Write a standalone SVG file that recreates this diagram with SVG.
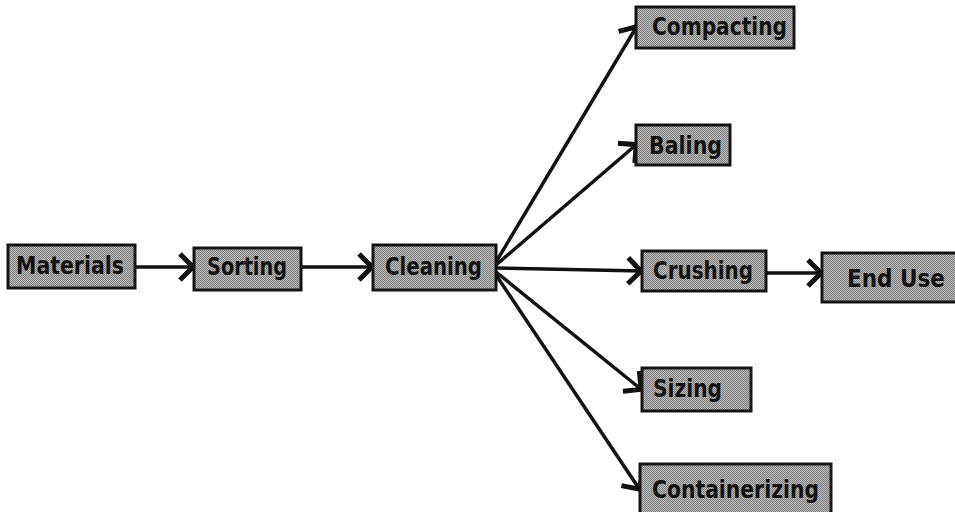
<svg xmlns="http://www.w3.org/2000/svg" width="955" height="512" viewBox="0 0 955 512">
<defs>
<pattern id="dither" width="2" height="2" patternUnits="userSpaceOnUse">
<rect width="2" height="2" fill="#bdbdbd"/>
<rect width="1" height="1" fill="#7e7e7e"/>
<rect x="1" y="1" width="1" height="1" fill="#7e7e7e"/>
</pattern>
<marker id="arr" viewBox="-20 -18 22 36" markerWidth="22" markerHeight="36" refX="-1" refY="0" orient="auto" markerUnits="userSpaceOnUse">
<path d="M-15,-13 L-2,0 L-15,13" fill="none" stroke="#111" stroke-width="5"/>
</marker>
<style>
.box{fill:url(#dither);stroke:#141414;stroke-width:3}
.lbl{font-family:"Liberation Sans Narrow","DejaVu Sans Condensed","Liberation Sans",sans-serif;font-weight:bold;font-size:25px;fill:#111}
.con{fill:none;stroke:#111;stroke-width:3.5;marker-end:url(#arr)}
</style>
</defs>
<rect width="955" height="512" fill="#fff"/>
<g id="connectors">
<line class="con" x1="135" y1="267" x2="194" y2="267"/>
<line class="con" x1="301" y1="267" x2="373" y2="267"/>
<line class="con" x1="496" y1="262" x2="637" y2="26"/>
<line class="con" x1="496" y1="265" x2="637" y2="144"/>
<line class="con" x1="496" y1="268" x2="642" y2="271"/>
<line class="con" x1="766" y1="273" x2="822" y2="273"/>
<line class="con" x1="496" y1="272" x2="642" y2="390"/>
<line class="con" x1="496" y1="275" x2="640" y2="490"/>
</g>
<g id="materials"><rect class="box" x="8" y="245" width="127" height="43"/><text class="lbl" x="16" y="274" textLength="108" lengthAdjust="spacingAndGlyphs">Materials</text></g>
<g id="sorting"><rect class="box" x="194" y="248" width="107" height="42"/><text class="lbl" x="207" y="275" textLength="80" lengthAdjust="spacingAndGlyphs">Sorting</text></g>
<g id="cleaning"><rect class="box" x="373" y="245" width="123" height="45"/><text class="lbl" x="385" y="275" textLength="97" lengthAdjust="spacingAndGlyphs">Cleaning</text></g>
<g id="compacting"><rect class="box" x="636" y="7" width="158" height="41"/><text class="lbl" x="652" y="35" textLength="135" lengthAdjust="spacingAndGlyphs">Compacting</text></g>
<g id="baling"><rect class="box" x="636" y="125" width="94" height="40"/><text class="lbl" x="649" y="154" textLength="73" lengthAdjust="spacingAndGlyphs">Baling</text></g>
<g id="crushing"><rect class="box" x="642" y="251" width="124" height="40"/><text class="lbl" x="653" y="279" textLength="100" lengthAdjust="spacingAndGlyphs">Crushing</text></g>
<g id="enduse"><rect class="box" x="822" y="253" width="140" height="49"/><text class="lbl" x="847" y="287" textLength="98" lengthAdjust="spacingAndGlyphs">End Use</text></g>
<g id="sizing"><rect class="box" x="642" y="368" width="109" height="43"/><text class="lbl" x="653" y="397" textLength="69" lengthAdjust="spacingAndGlyphs">Sizing</text></g>
<g id="containerizing"><rect class="box" x="640" y="464" width="191" height="52"/><text class="lbl" x="652" y="498" textLength="167" lengthAdjust="spacingAndGlyphs">Containerizing</text></g>
</svg>
